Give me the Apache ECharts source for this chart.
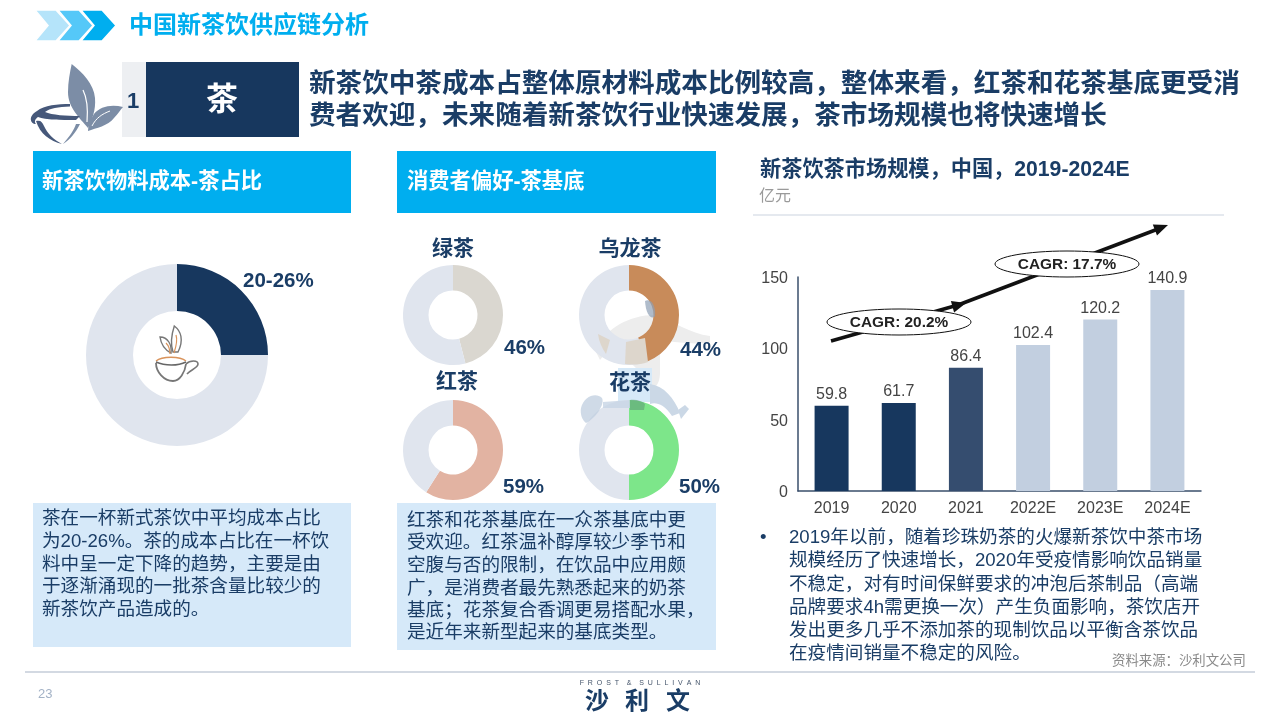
<!DOCTYPE html>
<html>
<head>
<meta charset="utf-8">
<title>中国新茶饮供应链分析</title>
<style>
  html, body { margin: 0; padding: 0; background: #fff; }
  #chart { width: 1280px; height: 720px; }
</style>
<script src="https://cdn.jsdelivr.net/npm/echarts@6/dist/echarts.min.js"></script>
</head>
<body>
<div id="chart"></div>
<script>
// 数据
var years = ['2019', '2020', '2021', '2022E', '2023E', '2024E']
var marketSize = [59.8, 61.7, 86.4, 102.4, 120.2, 140.9]
var yTicks = [0, 50, 100, 150]
var teaCost = 25
var teaNames = ['绿茶', '乌龙茶', '红茶', '花茶']
var teaShare = [46, 44, 59, 50]

var NAVY = '#1A3D66'
var FONT = '"Liberation Sans","Noto Sans CJK SC",sans-serif'

var myChart = echarts.init(document.getElementById('chart'))

function txt(x, y, str, size, color, weight, align) {
  return {
    type: 'text', x: x, y: y + 1.5, z: 10, silent: true,
    style: {
      text: str, fontSize: size, fontFamily: FONT, fontWeight: weight || 'normal', fill: color,
      textAlign: align || 'left', align: align || 'left',
      textVerticalAlign: 'middle', verticalAlign: 'middle'
    }
  }
}
function rect(x, y, w, h, color) {
  return { type: 'rect', z: 0, silent: true, shape: { x: x, y: y, width: w, height: h }, style: { fill: color } }
}
function line(x1, y1, x2, y2, color, w) {
  return { type: 'line', z: 1, silent: true, shape: { x1: x1, y1: y1, x2: x2, y2: y2 }, style: { stroke: color, lineWidth: w } }
}
function poly(points, color, z) {
  return { type: 'polygon', z: z || 1, silent: true, shape: { points: points }, style: { fill: color } }
}
function chevron(x, color) {
  var c = poly([[x, 10], [x + 21, 10], [x + 35, 25.5], [x + 21, 41], [x, 41], [x + 13, 25.5]], color)
  c.style.stroke = '#fff'
  c.style.lineWidth = 1.5
  return c
}
function ellipseNote(cx, cy, str) {
  return [
    { type: 'ellipse', z: 6, silent: true, shape: { cx: cx, cy: cy, rx: 72, ry: 13 }, style: { fill: '#fff', stroke: '#111', lineWidth: 1 } },
    txt(cx, cy - 1, str, 15.4, '#222', 'bold', 'center')
  ]
}

// 图标和水印用内联 svg，坐标就是页面坐标
function p(d, fill, stroke, w, opacity) {
  return '<path d="' + d + '" fill="' + (fill || 'none') + '" stroke="' + (stroke || 'none') +
    '" stroke-width="' + (w || 0) + '" opacity="' + (opacity == null ? 1 : opacity) + '"/>'
}
function svgImage(parts, z) {
  var svg = '<svg xmlns="http://www.w3.org/2000/svg" width="1280" height="720" viewBox="0 0 1280 720">' + parts.join('') + '</svg>'
  return {
    type: 'image', x: 0, y: 0, z: z, silent: true,
    style: { image: 'data:image/svg+xml;charset=utf-8,' + encodeURIComponent(svg), width: 1280, height: 720 }
  }
}
// 水印在饼图下面的部分
var watermarkBack = [
  p('M596 352 C604 328 630 315 655 315 C672 320 690 334 710 336 L710 342 C692 346 672 340 660 342 L660 372 C660 380 658 384 656 386 L640 384 L636 368 L612 345 L600 360 Z', '#EDEDED'),
  p('M618 368 L652 368 L652 402 L618 402 Z', '#D6E9F8'),
  p('M650 384 C664 386 674 398 680 413 L672 416 C664 404 656 402 650 404 Z', '#CBD8E6'),
  p('M678 410 L685 405 L689 409 L681 419 Z', '#CBD8E6')
]
var artwork = [
  // 左上角茶杯
  p('M71.7 64 C82 72 94 84 95 98 C96 110 92 120 88 128 C80 118 68 108 68 92 C68 82 70 72 71.7 64 Z', '#7C8DA6'),
  p('M83 90 C88 100 88 110 87 122', null, '#fff', 1.2),
  p('M123 107 C112 104 100 106 94 114 C90 120 88 126 88 131 C96 128 108 126 114 118 C118 114 120 110 123 107 Z', '#7C8DA6'),
  p('M92 126 C96 118 102 114 110 111', null, '#fff', 1),
  p('M37 111 C44 105 58 104 70 104 L70 106.5 C58 107 50 108 45 112 C52 115 66 116 80 116 L76 120 C60 120 46 120 38 117 C35 119 34 122 36 124 C30 124 28 116 37 111 Z', '#46587A'),
  p('M36 121 C41 120 42 122 44 126 C47 133 54 140 62 144 C50 141 40 134 36 121 Z', '#46587A'),
  p('M80 124 C76 132 70 140 63 144 C70 136 74 130 76 124 Z', '#7C8DA6'),
  // 杯子小图标
  p('M174.3 326 C181 331 184 340 178 352 L173 352 C170 343 172 333 174.3 326 Z', null, '#777', 1.4),
  p('M160 337 C168 337 172 345 171 353 C165 350 161 344 160 337 Z', null, '#777', 1.4),
  p('M176 335 C178 341 176 347 174 353 M166 343 C169 346 170 350 170 354', null, '#D9935B', 1.2),
  p('M156 361 C162 356 180 356 186 361', null, '#D9935B', 1.4),
  p('M156 362 C165 366 178 366 186 362', null, '#666', 1.6),
  p('M156 363 C156 372 164 381 173 381 C180 381 185 372 186 364', null, '#777', 1.8),
  p('M186 364 C190 360 198 360 198 364 C198 368 190 370 187 374', null, '#777', 1.6),
  // 水印压在饼图上的部分
  p('M626 342 L645 338 L648 362 C640 365 632 365 625 364 Z', '#DDD6CC'),
  p('M598 334 L610 340 L606 354 C602 348 599 342 598 334 Z', '#DDD6CC'),
  p('M645 301 C650 298 656 304 655 316 C652 320 646 316 645 301 Z', '#8FA0B5', null, 0, 0.7),
  p('M630 400 C636 399 642 401 645 404 L644 410 L630 410 Z', '#5F9E78', null, 0, 0.6),
  p('M581 408 C584 396 596 392 602 398 C605 404 596 418 586 423 C582 420 580 414 581 408 Z', '#BFCEDF', null, 0, 0.75),
  p('M603 402 L630 400 L630 408 L603 408 Z', '#C7D5E5', null, 0, 0.8)
]

var graphics = [
  // 顶部
  chevron(35, '#B5E4FA'), chevron(58, '#55C8F8'), chevron(81, '#00AEEF'),
  txt(129, 25, '中国新茶饮供应链分析', 24, '#00AEEF', 'bold'),
  svgImage(watermarkBack, 1),
  svgImage(artwork, 3),
  // 标签
  rect(122, 62, 24, 75, '#EDEFF2'),
  rect(146, 62, 153, 75, '#17375E'),
  txt(133, 100, '1', 22, NAVY, 'bold', 'center'),
  txt(222, 100, '茶', 32, '#fff', 'bold', 'center'),
  txt(309, 83, '新茶饮中茶成本占整体原材料成本比例较高，整体来看，红茶和花茶基底更受消', 26.6, NAVY, 'bold'),
  txt(309, 115, '费者欢迎，未来随着新茶饮行业快速发展，茶市场规模也将快速增长', 26.6, NAVY, 'bold'),
  // 小标题
  rect(33, 151, 318, 62, '#00AEEF'),
  rect(397, 151, 319, 62, '#00AEEF'),
  txt(42, 181, '新茶饮物料成本-茶占比', 21.3, '#fff', 'bold'),
  txt(407, 181, '消费者偏好-茶基底', 21.3, '#fff', 'bold'),
  txt(760, 169, '新茶饮茶市场规模，中国，2019-2024E', 21.2, NAVY, 'bold'),
  txt(759, 195, '亿元', 16, '#9a9a9a'),
  line(753, 215, 1224, 215, '#CBD3DF', 1),
  // 百分比
  txt(243, 280, '20-26%', 20.5, NAVY, 'bold'),
  txt(504, 347, teaShare[0] + '%', 20.5, NAVY, 'bold'),
  txt(680, 349, teaShare[1] + '%', 20.5, NAVY, 'bold'),
  txt(503, 486, teaShare[2] + '%', 20.5, NAVY, 'bold'),
  txt(679, 486, teaShare[3] + '%', 20.5, NAVY, 'bold'),
  txt(453, 248, teaNames[0], 21, NAVY, 'bold', 'center'),
  txt(630, 248, teaNames[1], 21, NAVY, 'bold', 'center'),
  txt(457, 381, teaNames[2], 21, NAVY, 'bold', 'center'),
  txt(630, 382, teaNames[3], 21, NAVY, 'bold', 'center'),
  // 说明文字
  rect(33, 503, 318, 144, '#D6E9F9'),
  rect(397, 503, 319, 147, '#D6E9F9'),
  txt(42, 517, '茶在一杯新式茶饮中平均成本占比', 18.6, NAVY),
  txt(42, 540, '为20-26%。茶的成本占比在一杯饮', 18.6, NAVY),
  txt(42, 563, '料中呈一定下降的趋势，主要是由', 18.6, NAVY),
  txt(42, 585, '于逐渐涌现的一批茶含量比较少的', 18.6, NAVY),
  txt(42, 608, '新茶饮产品造成的。', 18.6, NAVY),
  txt(407, 519, '红茶和花茶基底在一众茶基底中更', 18.6, NAVY),
  txt(407, 541, '受欢迎。红茶温补醇厚较少季节和', 18.6, NAVY),
  txt(407, 564, '空腹与否的限制，在饮品中应用颇', 18.6, NAVY),
  txt(407, 587, '广，是消费者最先熟悉起来的奶茶', 18.6, NAVY),
  txt(407, 609, '基底；花茶复合香调更易搭配水果，', 18.6, NAVY),
  txt(407, 631, '是近年来新型起来的基底类型。', 18.6, NAVY),
  txt(760, 536, '•', 18.6, NAVY),
  txt(789, 536, '2019年以前，随着珍珠奶茶的火爆新茶饮中茶市场', 18.6, NAVY),
  txt(789, 559, '规模经历了快速增长，2020年受疫情影响饮品销量', 18.6, NAVY),
  txt(789, 583, '不稳定，对有时间保鲜要求的冲泡后茶制品（高端', 18.6, NAVY),
  txt(789, 606, '品牌要求4h需更换一次）产生负面影响，茶饮店开', 18.6, NAVY),
  txt(789, 629, '发出更多几乎不添加茶的现制饮品以平衡含茶饮品', 18.6, NAVY),
  txt(789, 652, '在疫情间销量不稳定的风险。', 18.6, NAVY),
  txt(1112, 660, '资料来源：沙利文公司', 13.4, '#8a8a8a'),
  // 页脚
  line(25, 672, 1255, 672, '#C5CDD9', 1.5),
  txt(38, 693, '23', 13, '#A3B2C6'),
  txt(640, 682, 'F  R  O  S  T    &    S  U  L  L  I  V  A  N', 7, '#44546A', 'normal', 'center'),
  txt(597, 701, '沙', 24, NAVY, 'bold', 'center'),
  txt(637, 701, '利', 24, NAVY, 'bold', 'center'),
  txt(678, 701, '文', 24, NAVY, 'bold', 'center'),
  // CAGR 箭头
  line(831, 341, 958, 305, '#111', 3.5),
  poly([[966, 303], [954.1, 312.6], [950.9, 301]], '#111', 5),
  line(958, 305, 1158, 229, '#111', 3.5),
  poly([[1168, 225], [1157, 235.6], [1152.8, 224.4]], '#111', 5)
].concat(ellipseNote(899, 322, 'CAGR: 20.2%'), ellipseNote(1067, 264, 'CAGR: 17.7%'))

function donut(center, r0, r, value, color) {
  return {
    type: 'pie', center: center, radius: [r0, r], startAngle: 90, clockwise: true, silent: true,
    label: { show: false }, labelLine: { show: false }, z: 2,
    data: [
      { value: value, itemStyle: { color: color } },
      { value: 100 - value, itemStyle: { color: '#E0E5EE' } }
    ]
  }
}

var option = {
  animation: false,
  backgroundColor: '#fff',
  textStyle: { fontFamily: FONT },
  grid: { left: 798, top: 277, width: 403, height: 214 },
  xAxis: {
    type: 'category', data: years,
    axisLine: { lineStyle: { color: '#3A4F6B', width: 1.5 } },
    axisTick: { show: false },
    axisLabel: { color: '#444', fontSize: 16, margin: 10, fontFamily: FONT, interval: 0 }
  },
  yAxis: {
    type: 'value', min: yTicks[0], max: yTicks[yTicks.length - 1], interval: yTicks[1] - yTicks[0],
    axisLine: { show: true, lineStyle: { color: '#3A4F6B', width: 1.5 } },
    axisTick: { show: false },
    splitLine: { show: false },
    axisLabel: {
      margin: 10,
      formatter: '{t|{value}}',
      rich: { t: { color: '#444', fontSize: 16, fontFamily: FONT, padding: [3, 0, 0, 0] } }
    }
  },
  series: [
    {
      type: 'bar', barWidth: 34, silent: true,
      label: { show: true, position: 'top', color: '#444', fontSize: 16, distance: 3, fontFamily: FONT },
      data: marketSize.map(function (v, i) {
        var c = i < 2 ? '#17375E' : (i === 2 ? '#354D6F' : '#C2CFE0')
        return { value: v, itemStyle: { color: c } }
      })
    },
    donut([177, 355], 44, 91, teaCost, '#17375E'),
    donut([453, 315], 24.5, 50, teaShare[0], '#DAD7D0'),
    donut([629, 315], 24.5, 50, teaShare[1], '#C88B5A'),
    donut([453, 450], 24.5, 50, teaShare[2], '#E2B3A2'),
    donut([629, 450], 24.5, 50, teaShare[3], '#7DE68A')
  ],
  graphic: { elements: graphics }
}
myChart.setOption(option)
</script>
</body>
</html>
